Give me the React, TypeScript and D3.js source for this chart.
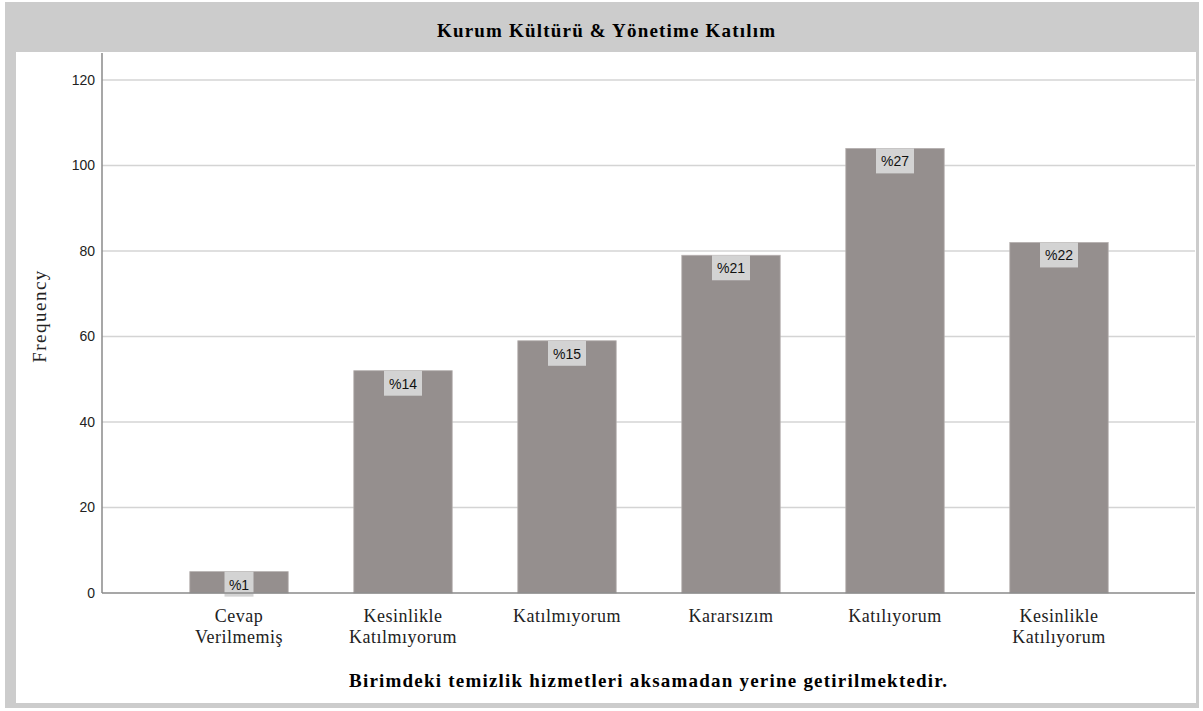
import React from "react";
import * as d3 from "d3";

const categories: string[][] = [
  ["Cevap", "Verilmemiş"],
  ["Kesinlikle", "Katılmıyorum"],
  ["Katılmıyorum"],
  ["Kararsızım"],
  ["Katılıyorum"],
  ["Kesinlikle", "Katılıyorum"],
];
const frequencies: number[] = [5, 52, 59, 79, 104, 82];
const yTicks: number[] = [0, 20, 40, 60, 80, 100, 120];
const chartTitle = "Kurum Kültürü & Yönetime Katılım";
const xTitle = "Birimdeki temizlik hizmetleri aksamadan yerine getirilmektedir.";
const yTitle = "Frequency";

const W = 1203;
const H = 711;
const serif = "'Liberation Serif', 'Times New Roman', serif";
const sans = "'Liberation Sans', Arial, sans-serif";

export default function App() {
  const plotLeft = 102;
  const plotRight = 1195;
  const y0 = 593;
  const yTop = 80;
  const y = d3.scaleLinear().domain([0, 120]).range([y0, yTop]);
  const keys = categories.map((c, i) => String(i));
  const x = d3
    .scaleBand<string>()
    .domain(keys)
    .range([157, 1141])
    .paddingInner(0.4)
    .paddingOuter(0.2);
  const total = d3.sum(frequencies);
  const bw = x.bandwidth();

  return (
    <svg
      width={W}
      height={H}
      style={{ position: "absolute", left: 0, top: 0, background: "#fff" }}
    >
      <rect x={5} y={2} width={1194} height={706} fill="#cccccc" />
      <rect x={16} y={52} width={1180} height={651} fill="#ffffff" />
      <text
        x={606}
        y={37}
        textAnchor="middle"
        fontFamily={serif}
        fontWeight="bold"
        fontSize={19}
        textLength={338}
        lengthAdjust="spacing"
        fill="#000"
      >
        {chartTitle}
      </text>

      {yTicks.map((t) => (
        <g key={t}>
          {t > 0 && (
            <line
              x1={plotLeft}
              x2={plotRight}
              y1={y(t)}
              y2={y(t)}
              stroke="#d4d4d4"
              strokeWidth={1.5}
            />
          )}
          <text
            x={95}
            y={y(t)}
            dy="0.35em"
            textAnchor="end"
            fontFamily={sans}
            fontSize={14}
            fill="#222"
          >
            {t}
          </text>
        </g>
      ))}

      {frequencies.map((v, i) => {
        const bx = x(String(i))!;
        const top = y(v);
        const label = "%" + Math.round((v / total) * 100);
        const lw = label.length * 9 + 11;
        return (
          <g key={i}>
            <rect
              x={bx}
              y={top}
              width={bw}
              height={y0 - top}
              fill="#958f8e"
              stroke="#b5b0af"
              strokeWidth={0.8}
            />
            <rect
              x={bx + bw / 2 - lw / 2}
              y={top}
              width={lw}
              height={25}
              fill="#d3d3d3"
            />
            <text
              x={bx + bw / 2}
              y={top + 13}
              dy="0.35em"
              textAnchor="middle"
              fontFamily={sans}
              fontSize={14}
              fill="#111"
            >
              {label}
            </text>
          </g>
        );
      })}

      <line x1={plotLeft} x2={plotLeft} y1={53} y2={y0} stroke="#8a8a8a" strokeWidth={1.5} />
      <line x1={plotLeft} x2={plotRight} y1={y0} y2={y0} stroke="#8a8a8a" strokeWidth={1.5} />

      {categories.map((lines, i) => (
        <text
          key={i}
          x={x(String(i))! + bw / 2}
          y={622}
          textAnchor="middle"
          fontFamily={serif}
          fontSize={18}
          letterSpacing={0.5}
          fill="#222"
        >
          {lines.map((l, j) => (
            <tspan key={j} x={x(String(i))! + bw / 2} dy={j === 0 ? 0 : 21}>
              {l}
            </tspan>
          ))}
        </text>
      ))}

      <text
        x={648}
        y={687}
        textAnchor="middle"
        fontFamily={serif}
        fontWeight="bold"
        fontSize={19}
        textLength={598}
        lengthAdjust="spacing"
        fill="#000"
      >
        {xTitle}
      </text>

      <text
        transform={`translate(46, 316) rotate(-90)`}
        textAnchor="middle"
        fontFamily={serif}
        fontSize={19}
        letterSpacing={1.5}
        fill="#222"
      >
        {yTitle}
      </text>
    </svg>
  );
}
